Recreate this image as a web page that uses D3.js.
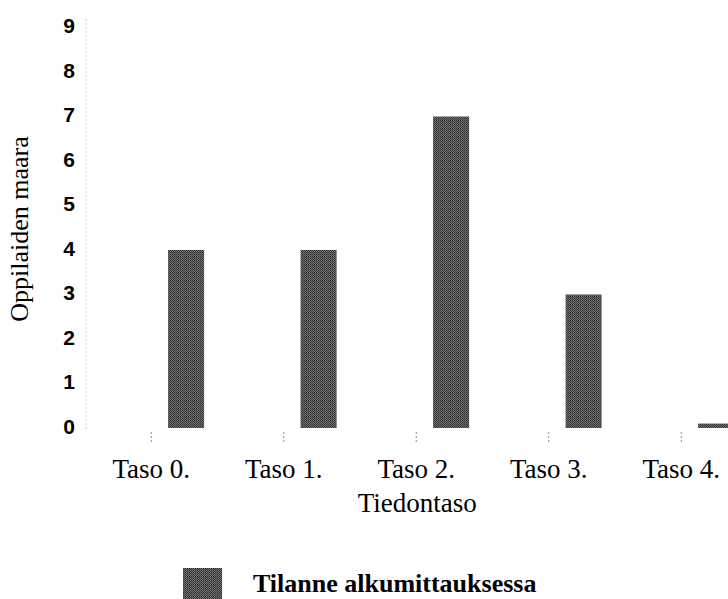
<!DOCTYPE html>
<html>
<head>
<meta charset="utf-8">
<script src="https://cdn.jsdelivr.net/npm/d3@7"></script>
<style>
  html, body { margin: 0; padding: 0; background: #fff; }
  svg { display: block; }
</style>
</head>
<body>
<svg id="chart" width="728" height="599"></svg>
<script>
// Oppilaiden määrä tiedontasoittain (alkumittaus)
const categories = ["Taso 0.", "Taso 1.", "Taso 2.", "Taso 3.", "Taso 4."];
const alkumittaus = [4, 4, 7, 3, 0.1];
const yTicks = [0, 1, 2, 3, 4, 5, 6, 7, 8, 9];
const seriesName = "Tilanne alkumittauksessa";
const xTitle = "Tiedontaso";
const yTitle = "Oppilaiden maara";

const serif = "'Liberation Serif', 'Times New Roman', Times, serif";
const sans = "'Liberation Sans', Arial, Helvetica, sans-serif";

const svg = d3.select("#chart");

// Grainy grey fill for the bars and the legend swatch
const defs = svg.append("defs");
const pat = defs.append("pattern")
  .attr("id", "grain")
  .attr("patternUnits", "userSpaceOnUse")
  .attr("width", 2).attr("height", 2);
pat.append("rect").attr("width", 2).attr("height", 2).attr("fill", "#6e6e6e");
pat.append("rect").attr("width", 1).attr("height", 1).attr("fill", "#2e2e2e");
pat.append("rect").attr("x", 1).attr("y", 1).attr("width", 1).attr("height", 1).attr("fill", "#404040");

const x = d3.scaleBand().domain(categories).range([85, 747.5]).padding(0);
const y = d3.scaleLinear().domain([0, 9]).range([428, 27.5]);

// Bars sit to the right of each category centre
const barOffset = x.bandwidth() * 0.627;
const barWidth = x.bandwidth() * 0.272;

svg.append("g")
  .selectAll("rect")
  .data(categories.map((c, i) => ({ c, v: alkumittaus[i] })))
  .join("rect")
  .attr("x", d => x(d.c) + barOffset)
  .attr("y", d => y(d.v))
  .attr("width", barWidth)
  .attr("height", d => y(0) - y(d.v))
  .attr("fill", "url(#grain)");

// Y axis: dotted spine with plain numeric labels
const yAxis = svg.append("g")
  .attr("transform", "translate(86,0)")
  .call(d3.axisLeft(y).tickValues(yTicks).tickFormat(d3.format("d")).tickSize(0).tickPadding(11));
yAxis.select(".domain")
  .attr("d", `M0,${y(9) - 8}V${y(0) + 2}`)
  .attr("stroke", "#9a9a9a")
  .attr("stroke-width", 1)
  .attr("stroke-dasharray", "1,3");
yAxis.selectAll("text")
  .attr("font-family", sans)
  .attr("font-size", 21)
  .attr("font-weight", "bold")
  .attr("fill", "#000")
  .attr("dy", "0.26em");

// X axis: short ticks and category labels, no baseline
const xAxis = svg.append("g")
  .attr("transform", "translate(0,432)")
  .call(d3.axisBottom(x).tickSize(12).tickPadding(0));
xAxis.select(".domain").remove();
xAxis.selectAll(".tick line")
  .attr("stroke", "#8a8a8a")
  .attr("stroke-dasharray", "2,2");
xAxis.selectAll("text")
  .attr("font-family", serif)
  .attr("font-size", 27)
  .attr("fill", "#000")
  .attr("y", 46)
  .attr("dy", 0);

// Axis titles
svg.append("text")
  .attr("x", x(categories[2]) + x.bandwidth() / 2 + 1)
  .attr("y", 512)
  .attr("text-anchor", "middle")
  .attr("font-family", serif)
  .attr("font-size", 27)
  .attr("fill", "#000")
  .text(xTitle);

svg.append("text")
  .attr("transform", "translate(28,229) rotate(-90)")
  .attr("text-anchor", "middle")
  .attr("font-family", serif)
  .attr("font-size", 26)
  .attr("fill", "#000")
  .text(yTitle);

// Legend
const legend = svg.append("g").attr("transform", "translate(183,568)");
legend.append("rect")
  .attr("width", 39).attr("height", 40)
  .attr("fill", "url(#grain)");
legend.append("text")
  .attr("x", 70)
  .attr("y", 24)
  .attr("font-family", serif)
  .attr("font-size", 26)
  .attr("font-weight", "bold")
  .attr("fill", "#000")
  .text(seriesName);
</script>
</body>
</html>
